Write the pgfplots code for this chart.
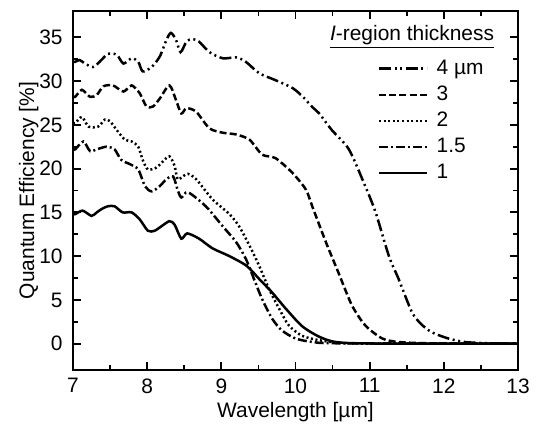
\documentclass[border=0pt]{standalone}
\usepackage{fontspec}
\setmainfont{Liberation Sans}
\usepackage{pgfplots}
\pgfplotsset{compat=1.18}
\begin{document}
\begin{tikzpicture}[font=\fontsize{10.5}{12.5}\selectfont]
\begin{axis}[
  scale only axis,
  width=222.5bp, height=179.5bp,
  xmin=7, xmax=13, ymin=-3, ymax=38,
  xtick={7,8,...,13}, ytick={0,5,...,35},
  minor x tick num=1, minor y tick num=1,
  tick align=inside,
  xtick pos=both, ytick pos=both,
  major tick length=4bp, minor tick length=2.5bp,
  axis line style={line width=1bp},
  every tick/.style={black, line width=0.9bp},
  /pgf/number format/assume math mode=true,
  tick label style={inner sep=0pt},
  xticklabel style={yshift=-4bp},
  yticklabel style={xshift=-5bp},
  xlabel={Wavelength [µm]},
  ylabel={Quantum Efficiency [\%]},
  xlabel style={at={(axis description cs:0.5,0)}, anchor=base, yshift=-23.5bp},
  ylabel style={at={(axis description cs:-0.0876,0.5)}, anchor=base},
  legend cell align=left,
  legend style={draw=none, fill=none, at={(rel axis cs:0.684,0.869)}, anchor=north west,
    inner sep=0pt, row sep=2.7bp, nodes={inner sep=0.8bp}},
  legend image code/.code={\draw[#1] (0bp,0bp) -- (24bp,0bp); \path[draw=none,fill=none] (0bp,0bp) -- (28bp,0bp);},
  every axis plot/.append style={line width=1.25bp, black, smooth, tension=0.45},
]
\coordinate (ll) at (rel axis cs:0,0);
\coordinate (ur) at (rel axis cs:1,1);
% 4 um
\addplot[dash pattern=on 6bp off 1.8bp on 1bp off 1.8bp on 1bp off 1.8bp] coordinates {
(7.00,32.2)(7.03,32.2)(7.09,32.4)(7.16,32.0)(7.27,31.6)(7.36,32.2)(7.47,33.1)(7.59,33.0)
(7.68,32.0)(7.79,32.6)(7.88,32.2)(7.94,31.1)(8.06,31.6)(8.17,32.8)(8.26,34.7)(8.32,35.5)
(8.39,34.7)(8.45,33.3)(8.53,34.5)(8.61,34.8)(8.70,34.5)(8.84,33.3)(9.02,32.6)(9.20,32.7)
(9.33,32.2)(9.51,30.9)(9.73,30.1)(9.96,29.2)(10.10,28.2)(10.23,27.0)(10.32,26.3)(10.49,24.4)
(10.72,22.2)(10.94,18.0)(11.08,15.0)(11.26,10.0)(11.39,7.4)(11.57,3.6)(11.70,2.2)(11.84,1.3)
(12.06,0.6)(12.28,0.2)(12.60,0.05)(13.00,0.0)};
\addlegendentry{4 µm}
% 3 um
\addplot[dash pattern=on 3.5bp off 1.6bp] coordinates {
(7.00,28.2)(7.03,28.2)(7.12,29.0)(7.23,28.2)(7.32,28.4)(7.41,29.4)(7.54,29.5)(7.68,28.8)
(7.79,29.5)(7.90,28.6)(7.99,27.1)(8.08,27.1)(8.17,28.0)(8.30,29.5)(8.39,27.8)(8.46,26.3)
(8.53,26.9)(8.66,26.5)(8.84,24.6)(9.02,24.1)(9.20,23.9)(9.38,23.3)(9.55,21.6)(9.73,21.2)
(9.96,19.5)(10.14,17.6)(10.23,15.6)(10.41,11.6)(10.58,8.1)(10.76,4.4)(10.94,2.1)(11.17,0.6)
(11.39,0.2)(11.80,0.05)(13.00,0.0)};
\addlegendentry{3}
% 2 um
\addplot[dash pattern=on 1bp off 1.3bp] coordinates {
(7.00,25.2)(7.03,25.2)(7.12,25.9)(7.21,24.8)(7.34,24.8)(7.43,25.6)(7.50,25.4)(7.59,24.4)
(7.70,23.3)(7.79,23.1)(7.88,22.5)(7.94,21.0)(8.01,19.9)(8.12,20.1)(8.21,20.8)(8.30,21.4)
(8.37,20.3)(8.41,18.8)(8.48,19.1)(8.55,19.4)(8.66,18.8)(8.88,16.5)(9.11,14.8)(9.24,13.4)
(9.38,11.2)(9.51,8.9)(9.64,6.3)(9.78,4.0)(9.91,2.1)(10.09,0.9)(10.32,0.4)(10.60,0.1)
(11.00,0.02)(13.00,0.0)};
\addlegendentry{2}
% 1.5 um
\addplot[dash pattern=on 4.5bp off 1.5bp on 1bp off 1.5bp] coordinates {
(7.00,22.2)(7.03,22.2)(7.14,23.1)(7.23,22.0)(7.32,22.2)(7.45,22.5)(7.56,22.2)(7.65,21.0)
(7.77,20.5)(7.88,19.9)(7.97,18.0)(8.06,17.4)(8.17,18.0)(8.26,18.8)(8.35,19.1)(8.41,17.6)
(8.46,16.7)(8.55,17.3)(8.79,15.7)(9.02,13.4)(9.20,11.6)(9.33,9.7)(9.44,7.4)(9.55,5.1)
(9.69,2.8)(9.82,1.5)(10.00,0.6)(10.23,0.2)(10.60,0.05)(13.00,0.0)};
\addlegendentry{1.5}
% 1 um
\addplot[solid] coordinates {
(7.00,14.8)(7.03,14.8)(7.13,15.2)(7.25,14.6)(7.32,15.0)(7.39,15.4)(7.47,15.7)(7.56,15.7)
(7.67,15.0)(7.79,15.0)(7.90,14.2)(8.01,12.9)(8.10,12.9)(8.19,13.4)(8.30,14.0)(8.37,13.6)
(8.46,12.0)(8.54,12.6)(8.70,12.0)(8.88,10.9)(9.11,10.0)(9.34,8.9)(9.51,7.4)(9.68,5.9)
(9.87,4.0)(10.09,2.0)(10.32,0.8)(10.54,0.2)(11.00,0.03)(13.00,0.0)};
\addlegendentry{1}
\node[anchor=center] at (rel axis cs:0.762,0.928) {\underline{\textit{I}-region thickness}};
\end{axis}
\path ([shift={(-36.5bp,-34bp)}]ll) rectangle ([shift={(9.5bp,5.5bp)}]ur);
\end{tikzpicture}
\end{document}
